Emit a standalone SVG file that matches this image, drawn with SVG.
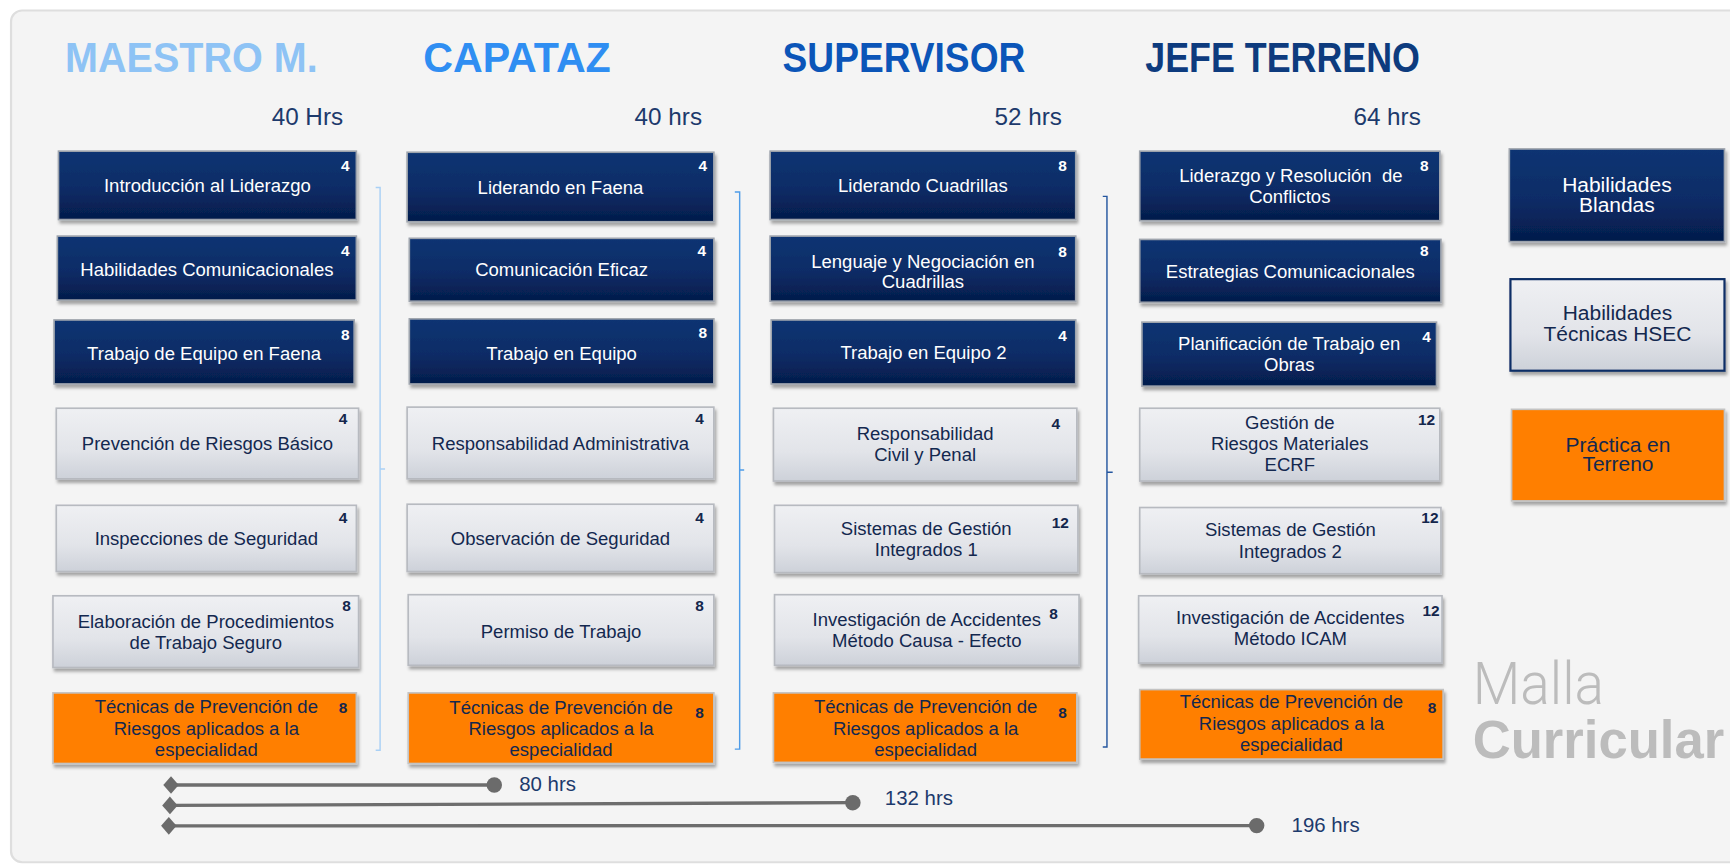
<svg xmlns="http://www.w3.org/2000/svg" width="1730" height="865" viewBox="0 0 1730 865">
<defs>
<linearGradient id="gDark" x1="0" y1="0" x2="0" y2="1">
<stop offset="0" stop-color="#0c3473"/><stop offset="0.55" stop-color="#0a2c66"/><stop offset="1" stop-color="#051c4b"/>
</linearGradient>
<linearGradient id="gLight" x1="0" y1="0" x2="0" y2="1">
<stop offset="0" stop-color="#eff0f3"/><stop offset="0.6" stop-color="#e2e4e9"/><stop offset="1" stop-color="#cdd1d9"/>
</linearGradient>
<filter id="sh" x="-5%" y="-10%" width="115%" height="135%">
<feDropShadow dx="1.5" dy="3" stdDeviation="1.6" flood-color="#000" flood-opacity="0.33"/>
</filter>
<marker id="dia" viewBox="-9 -9 18 18" markerWidth="18" markerHeight="18" refX="0" refY="0" markerUnits="userSpaceOnUse" orient="auto">
<path d="M-7,0 L0,-8 L7,0 L0,8 Z" fill="#6b6b6b"/>
</marker>
<marker id="dot" viewBox="-9 -9 18 18" markerWidth="18" markerHeight="18" refX="0" refY="0" markerUnits="userSpaceOnUse" orient="auto">
<circle cx="0" cy="0" r="7" fill="#6b6b6b"/>
</marker>
</defs>
<style>
.bd{fill:url(#gDark);stroke:#9ea4ad;stroke-width:1.5;filter:url(#sh)}
.bl{fill:url(#gLight);stroke:#b7bac0;stroke-width:1.5;filter:url(#sh)}
.bo{fill:#ff7f00;stroke:#c3c3c3;stroke-width:1.5;filter:url(#sh)}
.bk{fill:url(#gLight);stroke:#0d2e66;stroke-width:2;filter:url(#sh)}
.t{font-family:"Liberation Sans",Arial,sans-serif;font-size:16.8px;text-anchor:middle}
.tw{fill:#ffffff}
.tn{fill:#13284f}
.n{font-family:"Liberation Sans",Arial,sans-serif;font-weight:bold;font-size:14px;text-anchor:middle}
.nw{fill:#ffffff}
.nn{fill:#14264c}
.lg{font-family:"Liberation Sans",Arial,sans-serif;font-size:19px;text-anchor:middle}
.ttl{font-family:"Liberation Sans",Arial,sans-serif;font-weight:bold;font-size:38px}
.hr{font-family:"Liberation Sans",Arial,sans-serif;font-size:22px;fill:#1d3a6c;text-anchor:end}
.hb{font-family:"Liberation Sans",Arial,sans-serif;font-size:18.5px;fill:#1d3a6c}
.br{fill:none;stroke-width:1.3}
.hl{fill:none;stroke:#6d6d6d;stroke-width:3;marker-start:url(#dia);marker-end:url(#dot)}
</style>
<rect x="0" y="0" width="1730" height="865" fill="#ffffff"/>
<g transform="scale(1.1033163)">
<rect id="panel" x="10" y="9.5" width="1600" height="772" rx="10" fill="#f4f4f4" stroke="#dedede" stroke-width="2"/>

<g id="titles">
<text class="ttl" x="59" y="65.5" fill="#8ec3f5" textLength="229" lengthAdjust="spacingAndGlyphs">MAESTRO M.</text>
<text class="ttl" x="383.6" y="65.5" fill="#2f8ef2" textLength="170" lengthAdjust="spacingAndGlyphs">CAPATAZ</text>
<text class="ttl" x="709.3" y="65.5" fill="#0b55b8" textLength="220" lengthAdjust="spacingAndGlyphs">SUPERVISOR</text>
<text class="ttl" x="1038" y="65.5" fill="#0d3b7e" textLength="249" lengthAdjust="spacingAndGlyphs">JEFE TERRENO</text>
<text class="hr" x="311" y="113.3">40 Hrs</text>
<text class="hr" x="636.3" y="113.3">40 hrs</text>
<text class="hr" x="962.5" y="113.3">52 hrs</text>
<text class="hr" x="1287.8" y="113.3">64 hrs</text>
</g>

<g id="connectors">
<path class="br" stroke="#a9d0f5" d="M340.5,170 H344.5 V680 H340.5 M344.5,425 H349"/>
<path class="br" stroke="#4e9ce8" d="M666,174 H670.4 V679 H666 M670.4,426 H674.5"/>
<path class="br" stroke="#24569f" d="M999.5,178 H1003.3 V677 H999.5 M1003.3,428 H1008.5"/>
<path class="hl" d="M155,711.5 L448,711.5"/>
<path class="hl" d="M154,730 L773,727.5"/>
<path class="hl" d="M153,748.5 L1139,748.3"/>
<text class="hb" x="470.6" y="717">80 hrs</text>
<text class="hb" x="802" y="729.5">132 hrs</text>
<text class="hb" x="1170.6" y="754">196 hrs</text>
</g>

<!-- Column 1 -->
<g id="n-b1"><rect class="bd" x="53" y="137" width="270" height="62"/><text class="t tw" x="188" y="174">Introducción al Liderazgo</text><text class="n nw" x="313" y="155">4</text></g>
<g id="n-b2"><rect class="bd" x="52" y="214" width="271" height="58"/><text class="t tw" x="187.5" y="250">Habilidades Comunicacionales</text><text class="n nw" x="313" y="232">4</text></g>
<g id="n-b3"><rect class="bd" x="49" y="290" width="272" height="58"/><text class="t tw" x="185" y="326">Trabajo de Equipo en Faena</text><text class="n nw" x="313" y="308">8</text></g>
<g id="n-b4"><rect class="bl" x="51" y="370" width="274" height="64"/><text class="t tn" x="188" y="408">Prevención de Riesgos Básico</text><text class="n nn" x="311" y="384">4</text></g>
<g id="n-b5"><rect class="bl" x="51" y="458" width="272" height="60"/><text class="t tn" x="187" y="494">Inspecciones de Seguridad</text><text class="n nn" x="311" y="474">4</text></g>
<g id="n-b6"><rect class="bl" x="48" y="540" width="277" height="65"/><text class="t tn" x="186.5" y="569">Elaboración de Procedimientos</text><text class="t tn" x="186.5" y="588">de Trabajo Seguro</text><text class="n nn" x="314" y="554">8</text></g>
<g id="n-b7"><rect class="bo" x="48" y="628" width="275" height="64"/><text class="t tn" x="187" y="646">Técnicas de Prevención de</text><text class="t tn" x="187" y="666">Riesgos aplicados a la</text><text class="t tn" x="187" y="685">especialidad</text><text class="n nn" x="311" y="646">8</text></g>

<!-- Column 2 -->
<g id="n-c1"><rect class="bd" x="369" y="138" width="278" height="63"/><text class="t tw" x="508" y="176">Liderando en Faena</text><text class="n nw" x="637" y="155">4</text></g>
<g id="n-c2"><rect class="bd" x="371" y="216" width="276" height="57"/><text class="t tw" x="509" y="250">Comunicación Eficaz</text><text class="n nw" x="636" y="232">4</text></g>
<g id="n-c3"><rect class="bd" x="371" y="289" width="276" height="59"/><text class="t tw" x="509" y="326">Trabajo en Equipo</text><text class="n nw" x="637" y="306">8</text></g>
<g id="n-c4"><rect class="bl" x="369" y="369" width="278" height="65"/><text class="t tn" x="508" y="408">Responsabilidad Administrativa</text><text class="n nn" x="634" y="384">4</text></g>
<g id="n-c5"><rect class="bl" x="369" y="457" width="278" height="61"/><text class="t tn" x="508" y="494">Observación de Seguridad</text><text class="n nn" x="634" y="474">4</text></g>
<g id="n-c6"><rect class="bl" x="370" y="539" width="277" height="64"/><text class="t tn" x="508.5" y="578">Permiso de Trabajo</text><text class="n nn" x="634" y="554">8</text></g>
<g id="n-c7"><rect class="bo" x="370" y="628" width="277" height="64"/><text class="t tn" x="508.5" y="647">Técnicas de Prevención de</text><text class="t tn" x="508.5" y="666">Riesgos aplicados a la</text><text class="t tn" x="508.5" y="685">especialidad</text><text class="n nn" x="634" y="651">8</text></g>

<!-- Column 3 -->
<g id="n-d1"><rect class="bd" x="698" y="137" width="277" height="62"/><text class="t tw" x="836.5" y="174">Liderando Cuadrillas</text><text class="n nw" x="963" y="155">8</text></g>
<g id="n-d2"><rect class="bd" x="698" y="214" width="277" height="59"/><text class="t tw" x="836.5" y="242.5">Lenguaje y Negociación en</text><text class="t tw" x="836.5" y="261">Cuadrillas</text><text class="n nw" x="963" y="233">8</text></g>
<g id="n-d3"><rect class="bd" x="699" y="290" width="276" height="58"/><text class="t tw" x="837" y="325">Trabajo en Equipo 2</text><text class="n nw" x="963" y="309">4</text></g>
<g id="n-d4"><rect class="bl" x="701" y="370" width="275" height="66"/><text class="t tn" x="838.5" y="399">Responsabilidad</text><text class="t tn" x="838.5" y="418">Civil y Penal</text><text class="n nn" x="957" y="389">4</text></g>
<g id="n-d5"><rect class="bl" x="702" y="458" width="275" height="61"/><text class="t tn" x="839.5" y="485">Sistemas de Gestión</text><text class="t tn" x="839.5" y="504">Integrados 1</text><text class="n nn" x="961" y="479">12</text></g>
<g id="n-d6"><rect class="bl" x="702" y="539" width="276" height="64"/><text class="t tn" x="840" y="567">Investigación de Accidentes</text><text class="t tn" x="840" y="586">Método Causa - Efecto</text><text class="n nn" x="955" y="561">8</text></g>
<g id="n-d7"><rect class="bo" x="701" y="628" width="275" height="63"/><text class="t tn" x="839" y="646">Técnicas de Prevención de</text><text class="t tn" x="839" y="666">Riesgos aplicados a la</text><text class="t tn" x="839" y="685">especialidad</text><text class="n nn" x="963" y="651">8</text></g>

<!-- Column 4 -->
<g id="n-e1"><rect class="bd" x="1033" y="137" width="272" height="63"/><text class="t tw" x="1170" y="165" style="white-space:pre">Liderazgo y Resolución  de</text><text class="t tw" x="1169" y="184">Conflictos</text><text class="n nw" x="1291" y="155">8</text></g>
<g id="n-e2"><rect class="bd" x="1033" y="217" width="273" height="57"/><text class="t tw" x="1169.5" y="252">Estrategias Comunicacionales</text><text class="n nw" x="1291" y="232">8</text></g>
<g id="n-e3"><rect class="bd" x="1035" y="292" width="267" height="58"/><text class="t tw" x="1168.5" y="317">Planificación de Trabajo en</text><text class="t tw" x="1168.5" y="336">Obras</text><text class="n nw" x="1293" y="310">4</text></g>
<g id="n-e4"><rect class="bl" x="1033" y="370" width="272" height="66"/><text class="t tn" x="1169" y="389">Gestión de</text><text class="t tn" x="1169" y="408">Riesgos Materiales</text><text class="t tn" x="1169" y="427">ECRF</text><text class="n nn" x="1293" y="385">12</text></g>
<g id="n-e5"><rect class="bl" x="1033" y="460" width="273" height="60"/><text class="t tn" x="1169.5" y="486">Sistemas de Gestión</text><text class="t tn" x="1169.5" y="506">Integrados 2</text><text class="n nn" x="1296" y="474">12</text></g>
<g id="n-e6"><rect class="bl" x="1032" y="540" width="275" height="61"/><text class="t tn" x="1169.5" y="566">Investigación de Accidentes</text><text class="t tn" x="1169.5" y="585">Método ICAM</text><text class="n nn" x="1297" y="558">12</text></g>
<g id="n-e7"><rect class="bo" x="1033" y="625" width="275" height="63"/><text class="t tn" x="1170.5" y="642">Técnicas de Prevención de</text><text class="t tn" x="1170.5" y="662">Riesgos aplicados a la</text><text class="t tn" x="1170.5" y="681">especialidad</text><text class="n nn" x="1298" y="646">8</text></g>

<!-- Legend -->
<g id="legend-blandas"><rect class="bd" x="1368" y="135" width="195" height="84"/><text class="lg tw" x="1465.5" y="174.4">Habilidades</text><text class="lg tw" x="1465.5" y="192.5">Blandas</text></g>
<g id="legend-tecnicas"><rect class="bk" x="1369" y="253" width="194" height="83"/><text class="lg tn" x="1466" y="290.4">Habilidades</text><text class="lg tn" x="1466" y="309.4">Técnicas HSEC</text></g>
<g id="legend-practica"><rect class="bo" x="1370" y="371" width="193" height="83"/><text class="lg tn" x="1466.5" y="409.5">Práctica en</text><text class="lg tn" x="1466.5" y="427">Terreno</text></g>

<g id="malla">
<text x="1334.8" y="638" font-family="Roboto,'Liberation Sans',Arial,sans-serif" font-weight="300" font-size="53" fill="#bcbcbc" textLength="119" lengthAdjust="spacingAndGlyphs">Malla</text>
<text x="1334.8" y="687.3" font-family="'Liberation Sans',Arial,sans-serif" font-weight="bold" font-size="48" fill="#bcbcbc" textLength="228" lengthAdjust="spacingAndGlyphs">Curricular</text>
</g>
</g>
</svg>
